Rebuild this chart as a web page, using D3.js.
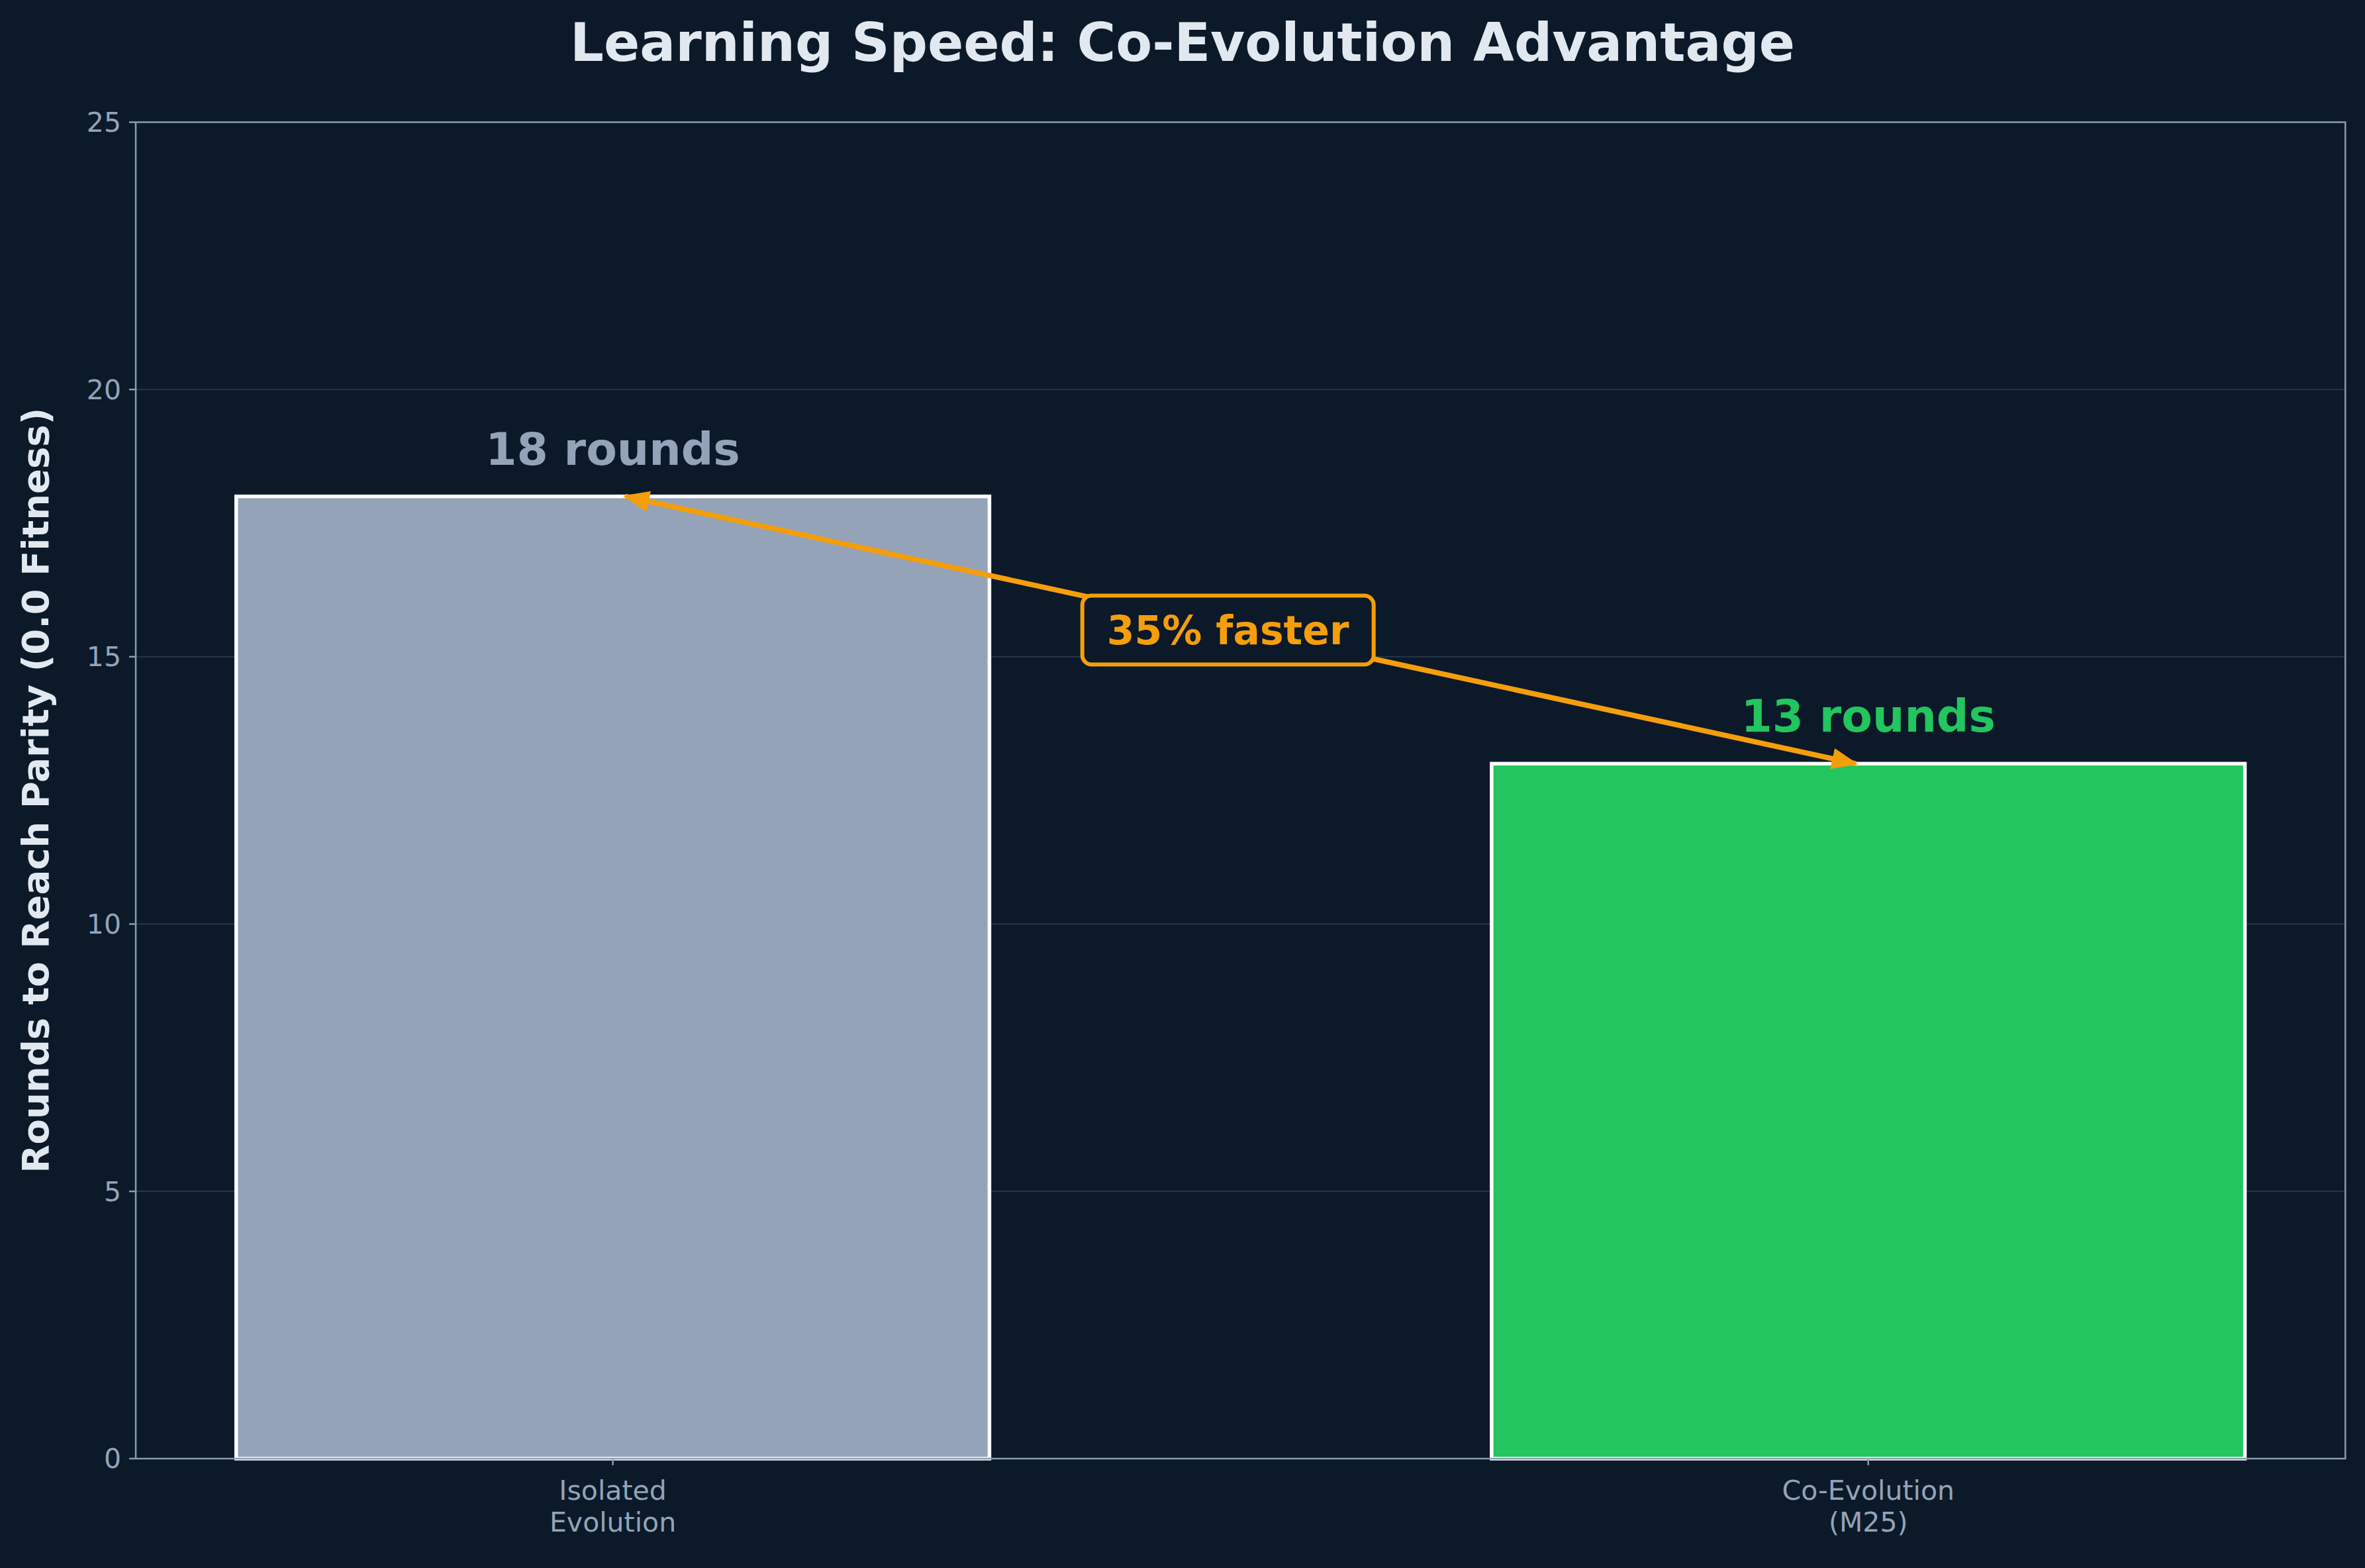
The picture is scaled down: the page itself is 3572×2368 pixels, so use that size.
<!DOCTYPE html><html><head><meta charset="utf-8">
<script src="https://cdn.jsdelivr.net/npm/d3@7"></script>
<style>html,body{margin:0;background:#0b1929;}</style></head><body>
<svg id="c" width="3572" height="2368"></svg>
<script>
const categories=[["Isolated","Evolution"],["Co-Evolution","(M25)"]];
const values=[18,13];
const colors=["#94a3b8","#22c55e"];
const valueLabels=["18 rounds","13 rounds"];
const yTicks=[0,5,10,15,20,25];
const k=2.278, F="DejaVu Sans";
const svg=d3.select("#c");
svg.append("rect").attr("width",3572).attr("height",2368).attr("fill","#0b1929");
const L=90*k,R=1555*k,T=81*k,B=967*k;
const x=d3.scaleLinear().domain([-0.38,1.38]).range([L,R]);
const y=d3.scaleLinear().domain([0,25]).range([B,T]);
const bw=x(0.3)-x(-0.3);
svg.selectAll(".g").data(yTicks.slice(1,-1)).enter().append("line")
 .attr("x1",L).attr("x2",R).attr("y1",d=>y(d)).attr("y2",d=>y(d)).attr("stroke","#334155").attr("stroke-width",2).attr("opacity",0.7);
svg.selectAll(".b").data(values).enter().append("rect")
 .attr("x",(d,i)=>x(i)-bw/2).attr("y",d=>y(d)).attr("width",bw).attr("height",d=>B-y(d))
 .attr("fill",(d,i)=>colors[i]).attr("stroke","#fff").attr("stroke-width",5.5);
svg.append("rect").attr("x",L).attr("y",T).attr("width",R-L).attr("height",B-T).attr("fill","none").attr("stroke","#8b9bb0").attr("stroke-width",2.5);
// y axis
const ya=svg.append("g");
yTicks.forEach(t=>{ya.append("line").attr("x1",L-10).attr("x2",L).attr("y1",y(t)).attr("y2",y(t)).attr("stroke","#8b9bb0").attr("stroke-width",2.5);
 ya.append("text").attr("x",L-22).attr("y",y(t)).attr("dy","0.35em").attr("text-anchor","end").attr("font-family",F).attr("font-size",41).attr("fill","#94a3b8").text(t);});
categories.forEach((c,i)=>{svg.append("line").attr("x1",x(i)).attr("x2",x(i)).attr("y1",B).attr("y2",B+10).attr("stroke","#8b9bb0").attr("stroke-width",2.5);
 c.forEach((s,j)=>svg.append("text").attr("x",x(i)).attr("y",B+62+j*48).attr("text-anchor","middle").attr("font-family",F).attr("font-size",41).attr("fill","#94a3b8").text(s));});
valueLabels.forEach((s,i)=>svg.append("text").attr("x",x(i)).attr("y",y(values[i])-48).attr("text-anchor","middle").attr("font-family",F).attr("font-weight","bold").attr("font-size",68).attr("fill",i?"#22c55e":"#94a3b8").text(s));
svg.append("text").attr("x",1786).attr("y",92).attr("text-anchor","middle").attr("font-family",F).attr("font-weight","bold").attr("font-size",80).attr("fill","#e2e8f0").text("Learning Speed: Co-Evolution Advantage");
svg.append("text").attr("transform",`translate(73,${(T+B)/2}) rotate(-90)`).attr("text-anchor","middle").attr("font-family",F).attr("font-weight","bold").attr("font-size",56).attr("fill","#e2e8f0").text("Rounds to Reach Parity (0.0 Fitness)");
// arrow
const defs=svg.append("defs");
defs.append("marker").attr("id","ah").attr("viewBox","0 0 10 10").attr("refX",9).attr("refY",5).attr("markerWidth",5).attr("markerHeight",5).attr("orient","auto-start-reverse")
 .append("path").attr("d","M0,1 L10,5 L0,9 z").attr("fill","#f59e0b");
svg.append("line").attr("x1",x(0.01)).attr("y1",y(18)).attr("x2",x(0.99)).attr("y2",y(13)).attr("stroke","#f59e0b").attr("stroke-width",8)
 .attr("marker-start","url(#ah)").attr("marker-end","url(#ah)");
const bx=x(0.49),by=y(15.5);
svg.append("rect").attr("x",bx-220).attr("y",by-52).attr("width",440).attr("height",104).attr("rx",14).attr("fill","#0b1929").attr("stroke","#f59e0b").attr("stroke-width",6);
svg.append("text").attr("x",bx).attr("y",by).attr("dy","0.36em").attr("text-anchor","middle").attr("font-family",F).attr("font-weight","bold").attr("font-size",60).attr("fill","#f59e0b").text("35% faster");
</script></body></html>
